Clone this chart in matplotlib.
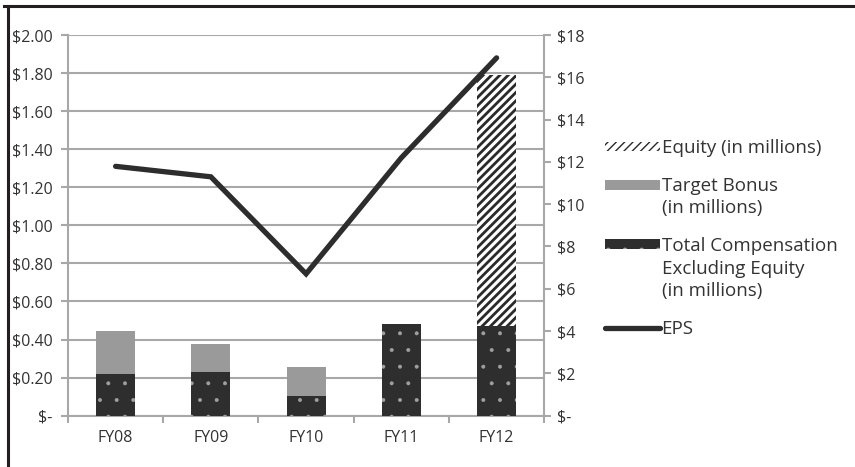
import matplotlib
matplotlib.use("Agg")
import matplotlib.pyplot as plt
from matplotlib.lines import Line2D
from matplotlib.patches import Rectangle
from matplotlib.legend_handler import HandlerPatch
import numpy as np

# data
years = ["FY08", "FY09", "FY10", "FY11", "FY12"]
total_comp_ex_equity = [1.97, 2.08, 0.93, 4.34, 4.26]   # $ millions
target_bonus = [2.04, 1.31, 1.37, 0.0, 0.0]            # $ millions
equity = [0.0, 0.0, 0.0, 0.0, 11.85]                   # $ millions
eps = [1.31, 1.255, 0.745, 1.355, 1.88]                # $ per share

left_ticks = [0.0, 0.2, 0.4, 0.6, 0.8, 1.0, 1.2, 1.4, 1.6, 1.8, 2.0]
right_ticks = [0, 2, 4, 6, 8, 10, 12, 14, 16, 18]

plt.rcParams['font.family'] = ['Open Sans', 'DejaVu Sans']

text_col = '#333333'
grid_col = '#a8a8a8'
dark = '#2e2e2e'
gray = '#9a9a9b'
tick_fs = 11.5
leg_fs = 13.5
leg_linespacing = 1.32
line_step = 18.0  # points between lines of a legend label


def top_aligned(nlines):
    # legend handle drawn level with the first line of a multi-line label
    def make(legend, orig_handle, xdescent, ydescent, width, height, fontsize):
        dy = (nlines - 1) / 2.0 * line_step
        return Rectangle((-xdescent, -ydescent + dy), width, height)
    return HandlerPatch(patch_func=make)


fig = plt.figure(figsize=(8.55, 4.67), dpi=100)
ax = fig.add_axes([0.0795, 0.11, 0.557, 0.815])
x = np.arange(len(years))

# left axis: EPS scale + gridlines
ax.set_ylim(0, 2.0)
ax.set_xlim(-0.5, len(years) - 0.5)
ax.set_yticks(left_ticks)
ax.set_yticklabels(["$-"] + ["$%.2f" % v for v in left_ticks[1:]])
ax.yaxis.grid(True, color=grid_col, linewidth=1.5)
ax.set_axisbelow(True)
ax.set_xticks(x)
ax.set_xticklabels(years)
ax.set_xticks(np.arange(len(years) + 1) - 0.5, minor=True)
ax.tick_params(axis='x', which='major', length=0, pad=10, labelsize=tick_fs, labelcolor=text_col)
ax.tick_params(axis='x', which='minor', length=5, width=1.5, color=grid_col)
ax.tick_params(axis='y', length=5, width=1.5, color=grid_col, labelsize=tick_fs,
               labelcolor=text_col, pad=6)
for s in ['top', 'right']:
    ax.spines[s].set_visible(False)
for s in ['left', 'bottom']:
    ax.spines[s].set_color(grid_col)
    ax.spines[s].set_linewidth(1.5)

# right axis: compensation bars in millions
ax2 = ax.twinx()
ax2.set_ylim(0, 18)
ax2.set_yticks(right_ticks)
ax2.set_yticklabels(["$-"] + ["$%d" % v for v in right_ticks[1:]])
ax2.tick_params(axis='y', length=5, width=1.5, color=grid_col, labelsize=tick_fs,
                labelcolor=text_col, pad=4)
for s in ['top', 'left', 'bottom']:
    ax2.spines[s].set_visible(False)
ax2.spines['right'].set_color(grid_col)
ax2.spines['right'].set_linewidth(1.5)

w = 0.41
with plt.rc_context({'hatch.linewidth': 0.4}):
    b1 = ax2.bar(x, total_comp_ex_equity, w, color=dark, edgecolor='#a0a0a0',
                 hatch='.', linewidth=0)
bottom2 = np.array(total_comp_ex_equity)
b2 = ax2.bar(x, target_bonus, w, bottom=bottom2, color=gray, linewidth=0)
bottom3 = bottom2 + np.array(target_bonus)
with plt.rc_context({'hatch.linewidth': 2.0}):
    b3 = ax2.bar(x, equity, w, bottom=bottom3, color='white', edgecolor='#2a2a2a',
                 hatch='////', linewidth=0)

# third axis for the EPS line so it sits above the bars
ax3 = ax.twinx()
ax3.set_ylim(0, 2.0)
ax3.set_axis_off()
l1, = ax3.plot(x, eps, color='#2d2d2d', linewidth=3.8, solid_capstyle='round',
               solid_joinstyle='miter')

labels = ["Equity (in millions)",
          "Target Bonus\n(in millions)",
          "Total Compensation\nExcluding Equity\n(in millions)",
          "EPS"]
handles = [b3.patches[-1], b2.patches[0], b1.patches[0], l1]
leg = fig.legend(handles, labels,
                 handler_map={b2.patches[0]: top_aligned(2), b1.patches[0]: top_aligned(3)},
                 loc='upper left', bbox_to_anchor=(0.697, 0.722), frameon=False,
                 fontsize=leg_fs, handlelength=2.9, handleheight=0.4, handletextpad=0.1,
                 labelspacing=1.05, borderpad=0)
for t in leg.get_texts():
    t.set_color(text_col)
    t.set_linespacing(leg_linespacing)

# outer frame: top and left edges
fig.add_artist(Line2D([0.005, 1.0], [0.988, 0.988], color='#231f20', linewidth=2.2,
                      transform=fig.transFigure))
fig.add_artist(Line2D([0.0095, 0.0095], [0.0, 0.988], color='#231f20', linewidth=2.2,
                      transform=fig.transFigure))

fig.savefig("out.png", dpi=100)
